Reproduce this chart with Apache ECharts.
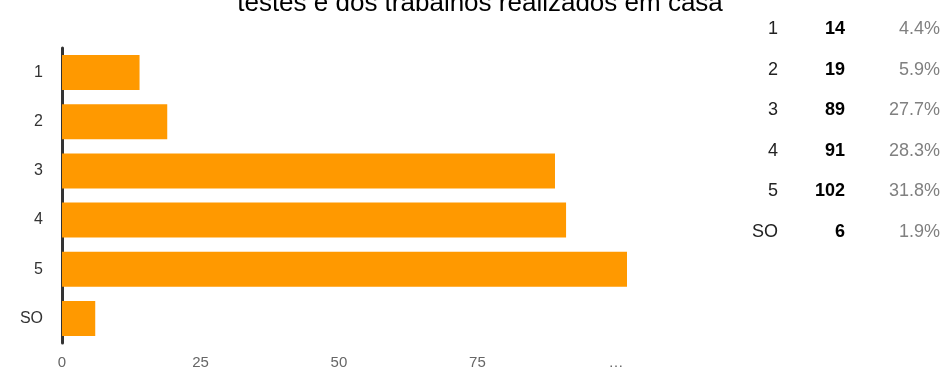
<!DOCTYPE html>
<html><head><meta charset="utf-8">
<script src="https://cdn.jsdelivr.net/npm/echarts@6/dist/echarts.min.js"></script>
<style>html,body{margin:0;padding:0;background:#fff}#c{width:943px;height:372px}</style>
</head><body><div id="c"></div>
<script>
const titleText = 'testes e dos trabalhos realizados em casa';
const categories = ['1', '2', '3', '4', '5', 'SO'];
const counts = [14, 19, 89, 91, 102, 6];
const percents = ['4.4%', '5.9%', '27.7%', '28.3%', '31.8%', '1.9%'];
const xTicks = [0, 25, 50, 75, 100];
const xTickLabels = ['0', '25', '50', '75', '…'];

const chart = echarts.init(document.getElementById('c'));
const tableRows = [];
const rowTop = 29.5, rowStep = 40.5;
categories.forEach((c, i) => {
  const y = rowTop + i * rowStep;
  tableRows.push({type:'text', x:778, y:y, style:{text:c, textAlign:'right', textVerticalAlign:'middle', font:'18px Arial, "Liberation Sans"', fill:'#222'}});
  tableRows.push({type:'text', x:845, y:y, style:{text:String(counts[i]), textAlign:'right', textVerticalAlign:'middle', font:'bold 18px Arial, "Liberation Sans"', fill:'#000'}});
  tableRows.push({type:'text', x:940, y:y, style:{text:percents[i], textAlign:'right', textVerticalAlign:'middle', font:'18px Arial, "Liberation Sans"', fill:'#808080'}});
});
chart.setOption({
  animation:false,
  textStyle:{fontFamily:'Arial, "Liberation Sans", sans-serif'},
  title:{text:titleText, left:475, textAlign:'center', top:-14, textStyle:{fontSize:26, fontWeight:'normal', color:'#000'}},
  grid:{left:62, right:316, top:48, bottom:29},
  xAxis:{type:'value', min:0, max:102, interval:25,
    axisLine:{show:false}, axisTick:{show:false}, splitLine:{show:false},
    axisLabel:{color:'#666', fontSize:15, margin:12,
      formatter:v => { const k = xTicks.indexOf(v); return k >= 0 ? xTickLabels[k] : ''; }}},
  yAxis:{type:'category', data:categories, inverse:true,
    axisLine:{show:true, onZero:false, lineStyle:{color:'#333', width:3}}, axisTick:{show:false},
    axisLabel:{color:'#333', fontSize:16, margin:19}},
  series:[{type:'bar', data:counts, barWidth:35, itemStyle:{color:'#ff9900'}}],
  graphic:tableRows
});
</script></body></html>
